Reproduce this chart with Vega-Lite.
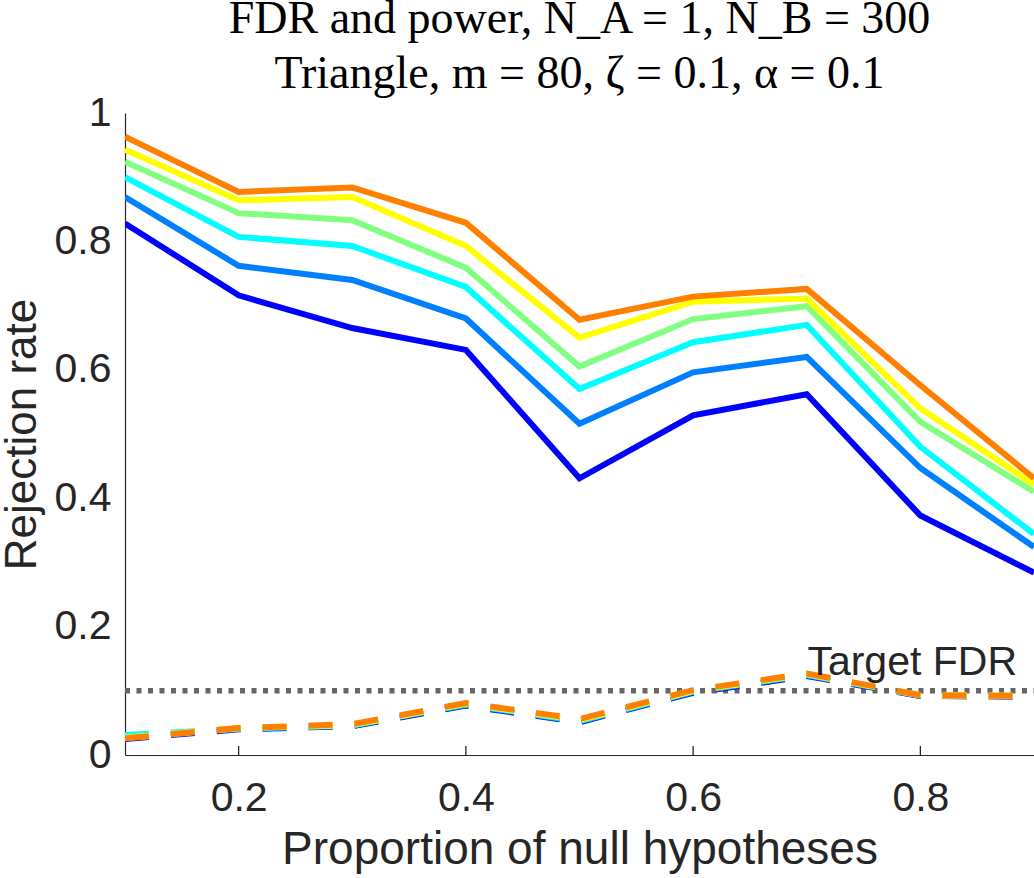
{
  "$schema": "https://vega.github.io/schema/vega-lite/v6.json",
  "width": 909,
  "height": 642,
  "autosize": "none",
  "padding": {"left": 125, "top": 113, "right": 0, "bottom": 123},
  "background": "white",
  "title": {
    "text": ["FDR and power, N_A = 1, N_B = 300", "Triangle, m = 80, ζ = 0.1, α = 0.1"],
    "font": "Liberation Serif",
    "fontSize": 46,
    "fontWeight": "normal",
    "color": "black",
    "lineHeight": 55,
    "anchor": "middle",
    "offset": -6
  },
  "config": {
    "view": {"stroke": null},
    "axis": {
      "domainColor": "#262626",
      "labelColor": "#262626",
      "titleColor": "#262626",
      "labelFont": "Liberation Sans",
      "titleFont": "Liberation Sans",
      "labelFontSize": 41,
      "titleFontSize": 44,
      "titleFontWeight": "normal",
      "grid": false,
      "ticks": false,
      "domainWidth": 1.2
    }
  },
  "datasets": {
    "curves": [
      {"p": 0.1, "series": "s1", "power": 0.828, "fdr": 0.025},
      {"p": 0.2, "series": "s1", "power": 0.716, "fdr": 0.040},
      {"p": 0.3, "series": "s1", "power": 0.665, "fdr": 0.045},
      {"p": 0.4, "series": "s1", "power": 0.631, "fdr": 0.077},
      {"p": 0.5, "series": "s1", "power": 0.431, "fdr": 0.051},
      {"p": 0.6, "series": "s1", "power": 0.529, "fdr": 0.097},
      {"p": 0.7, "series": "s1", "power": 0.562, "fdr": 0.123},
      {"p": 0.8, "series": "s1", "power": 0.373, "fdr": 0.092},
      {"p": 0.9, "series": "s1", "power": 0.284, "fdr": 0.091},
      {"p": 0.1, "series": "s2", "power": 0.869, "fdr": 0.026},
      {"p": 0.2, "series": "s2", "power": 0.762, "fdr": 0.041},
      {"p": 0.3, "series": "s2", "power": 0.740, "fdr": 0.046},
      {"p": 0.4, "series": "s2", "power": 0.680, "fdr": 0.078},
      {"p": 0.5, "series": "s2", "power": 0.516, "fdr": 0.052},
      {"p": 0.6, "series": "s2", "power": 0.596, "fdr": 0.098},
      {"p": 0.7, "series": "s2", "power": 0.620, "fdr": 0.124},
      {"p": 0.8, "series": "s2", "power": 0.447, "fdr": 0.092},
      {"p": 0.9, "series": "s2", "power": 0.324, "fdr": 0.091},
      {"p": 0.1, "series": "s3", "power": 0.900, "fdr": 0.031},
      {"p": 0.2, "series": "s3", "power": 0.807, "fdr": 0.041},
      {"p": 0.3, "series": "s3", "power": 0.793, "fdr": 0.046},
      {"p": 0.4, "series": "s3", "power": 0.729, "fdr": 0.079},
      {"p": 0.5, "series": "s3", "power": 0.570, "fdr": 0.053},
      {"p": 0.6, "series": "s3", "power": 0.643, "fdr": 0.099},
      {"p": 0.7, "series": "s3", "power": 0.670, "fdr": 0.125},
      {"p": 0.8, "series": "s3", "power": 0.480, "fdr": 0.093},
      {"p": 0.9, "series": "s3", "power": 0.344, "fdr": 0.092},
      {"p": 0.1, "series": "s4", "power": 0.924, "fdr": 0.027},
      {"p": 0.2, "series": "s4", "power": 0.844, "fdr": 0.042},
      {"p": 0.3, "series": "s4", "power": 0.833, "fdr": 0.047},
      {"p": 0.4, "series": "s4", "power": 0.759, "fdr": 0.080},
      {"p": 0.5, "series": "s4", "power": 0.605, "fdr": 0.054},
      {"p": 0.6, "series": "s4", "power": 0.679, "fdr": 0.100},
      {"p": 0.7, "series": "s4", "power": 0.699, "fdr": 0.126},
      {"p": 0.8, "series": "s4", "power": 0.519, "fdr": 0.093},
      {"p": 0.9, "series": "s4", "power": 0.410, "fdr": 0.092},
      {"p": 0.1, "series": "s5", "power": 0.943, "fdr": 0.027},
      {"p": 0.2, "series": "s5", "power": 0.864, "fdr": 0.042},
      {"p": 0.3, "series": "s5", "power": 0.869, "fdr": 0.047},
      {"p": 0.4, "series": "s5", "power": 0.793, "fdr": 0.080},
      {"p": 0.5, "series": "s5", "power": 0.650, "fdr": 0.055},
      {"p": 0.6, "series": "s5", "power": 0.706, "fdr": 0.100},
      {"p": 0.7, "series": "s5", "power": 0.711, "fdr": 0.126},
      {"p": 0.8, "series": "s5", "power": 0.540, "fdr": 0.093},
      {"p": 0.9, "series": "s5", "power": 0.421, "fdr": 0.092},
      {"p": 0.1, "series": "s6", "power": 0.963, "fdr": 0.026},
      {"p": 0.2, "series": "s6", "power": 0.877, "fdr": 0.042},
      {"p": 0.3, "series": "s6", "power": 0.884, "fdr": 0.048},
      {"p": 0.4, "series": "s6", "power": 0.829, "fdr": 0.081},
      {"p": 0.5, "series": "s6", "power": 0.678, "fdr": 0.056},
      {"p": 0.6, "series": "s6", "power": 0.714, "fdr": 0.101},
      {"p": 0.7, "series": "s6", "power": 0.726, "fdr": 0.127},
      {"p": 0.8, "series": "s6", "power": 0.576, "fdr": 0.093},
      {"p": 0.9, "series": "s6", "power": 0.431, "fdr": 0.092}
    ],
    "target": [
      {"target": 0.1, "p": 0.1, "p2": 0.9, "label": "Target FDR"}
    ],
    "xticks": [{"t": 0.2}, {"t": 0.4}, {"t": 0.6}, {"t": 0.8}],
    "yticks": [{"t": 0.2}, {"t": 0.4}, {"t": 0.6}, {"t": 0.8}, {"t": 1}]
  },
  "data": {"name": "curves"},
  "encoding": {
    "x": {
      "field": "p",
      "type": "quantitative",
      "title": "Proportion of null hypotheses",
      "scale": {"domain": [0.1, 0.9], "nice": false, "zero": false},
      "axis": {"values": [0.2, 0.4, 0.6, 0.8], "labelPadding": 23, "titlePadding": 9, "titleFontSize": 46, "format": ".1f"}
    }
  },
  "layer": [
    {
      "mark": {"type": "line", "strokeWidth": 6, "strokeJoin": "miter", "clip": true},
      "encoding": {
        "y": {
          "field": "power",
          "type": "quantitative",
          "title": "Rejection rate",
          "scale": {"domain": [0, 1], "nice": false},
          "axis": {"values": [0, 0.2, 0.4, 0.6, 0.8, 1], "labelPadding": 14, "titlePadding": 10, "labelExpr": "datum.value == 0 || datum.value == 1 ? format(datum.value, 'd') : format(datum.value, '.1f')"}
        },
        "color": {
          "field": "series",
          "type": "nominal",
          "legend": null,
          "scale": {"domain": ["s1", "s2", "s3", "s4", "s5", "s6"], "range": ["#0000FF", "#0080FF", "#00FFFF", "#80FF80", "#FFFF00", "#FF8000"]}
        }
      }
    },
    {
      "data": {"name": "target"},
      "mark": {"type": "rule", "color": "#666666", "strokeWidth": 5.5, "strokeDash": [5, 6.5]},
      "encoding": {
        "x2": {"field": "p2"},
        "y": {"field": "target", "type": "quantitative"}
      }
    },
    {
      "mark": {"type": "line", "strokeWidth": 6, "strokeDash": [24, 22], "clip": true},
      "encoding": {
        "y": {"field": "fdr", "type": "quantitative"},
        "color": {"field": "series", "type": "nominal", "legend": null}
      }
    },
    {
      "data": {"name": "target"},
      "mark": {"type": "text", "font": "Liberation Sans", "fontSize": 41, "color": "#262626", "align": "right", "baseline": "alphabetic", "dx": -17, "dy": -16},
      "encoding": {
        "x": {"field": "p2", "type": "quantitative"},
        "y": {"field": "target", "type": "quantitative"},
        "text": {"field": "label"}
      }
    },
    {
      "data": {"name": "xticks"},
      "mark": {"type": "rule", "color": "#262626", "strokeWidth": 1.3},
      "encoding": {
        "x": {"field": "t", "type": "quantitative"},
        "y": {"datum": 0},
        "y2": {"datum": 0.014}
      }
    },
    {
      "data": {"name": "yticks"},
      "mark": {"type": "rule", "color": "#262626", "strokeWidth": 1.3},
      "encoding": {
        "y": {"field": "t", "type": "quantitative"},
        "x": {"datum": 0.1},
        "x2": {"datum": 0.108}
      }
    }
  ]
}
